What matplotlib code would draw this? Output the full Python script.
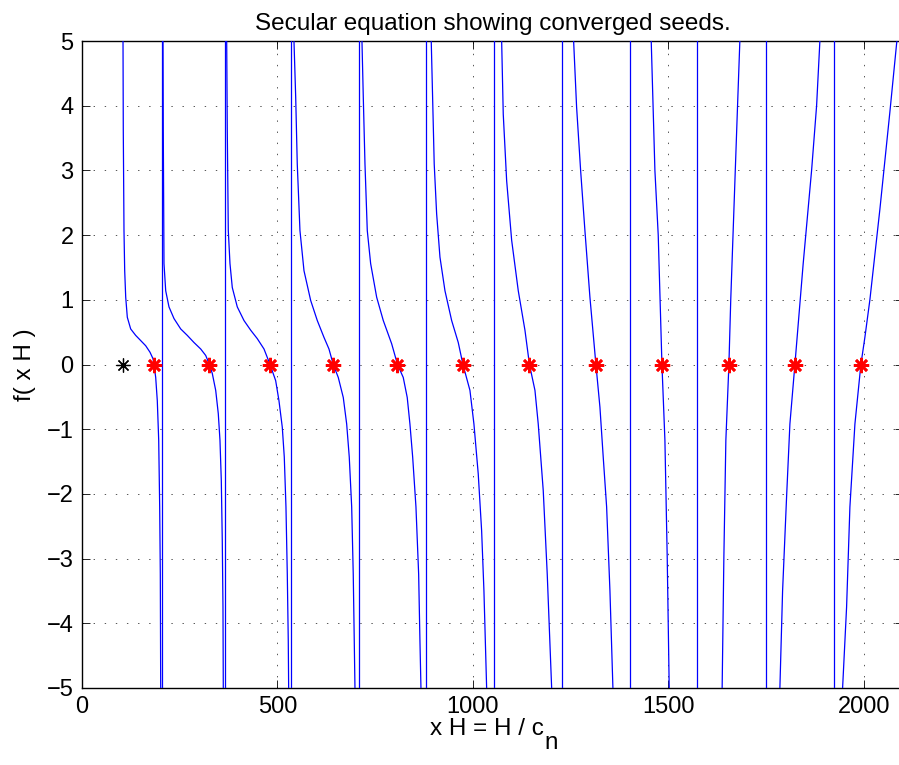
import matplotlib
matplotlib.use('Agg')
import matplotlib.pyplot as plt

plt.rcParams['font.family'] = ['Liberation Sans', 'DejaVu Sans']
plt.rcParams['lines.scale_dashes'] = False

title = "Secular equation showing converged seeds."
xlabel_main = "x H = H / c"
xlabel_sub = "n"
ylabel = "f( x H )"
xticks = [0, 500, 1000, 1500, 2000]
yticks = [-5, -4, -3, -2, -1, 0, 1, 2, 3, 4, 5]

# branches of the secular function f(xH)
b1_x = [104.9, 105.6, 107.4, 109.2, 111.8, 115.9, 124.5, 137.3, 150.1, 162.9, 173.9, 181.6,
        184.1, 188.5, 192.6, 196.2, 198.7, 200.3, 201.3]
b1_y = [5.0, 3.62, 2.07, 1.45, 1.04, 0.73, 0.55, 0.45, 0.37, 0.29, 0.19, 0.09,
        0.0, -0.2, -0.56, -1.17, -2.2, -3.24, -5.0]
b2_x = [207.2, 207.9, 209.7, 214.1, 222.5, 235.3, 252.4, 269.3, 286.4, 303.6, 316.4, 326.0,
        333.3, 342.0, 348.6, 352.9, 356.3, 358.8, 360.6, 361.4]
b2_y = [5.0, 3.62, 1.56, 1.14, 0.89, 0.71, 0.55, 0.45, 0.34, 0.24, 0.14, 0.0,
        -0.14, -0.40, -0.76, -1.17, -1.79, -2.72, -3.75, -5.0]
b3_x = [370.1, 371.6, 374.2, 378.5, 384.4, 397.2, 414.3, 431.5, 448.3, 465.5, 481.0,
        495.4, 503.8, 512.3, 517.4, 521.7, 525.1, 527.6, 528.6]
b3_y = [5.0, 3.62, 2.07, 1.56, 1.19, 0.89, 0.68, 0.53, 0.40, 0.24, 0.0,
        -0.25, -0.56, -0.97, -1.43, -2.2, -3.24, -4.27, -5.0]
b4_x = [542.2, 546.6, 550.6, 557.5, 567.8, 584.9, 601.8, 618.9, 631.7, 642.7,
        655.5, 668.3, 677.0, 683.6, 689.8, 693.8, 696.4, 698.2]
b4_y = [5.0, 4.13, 3.10, 2.07, 1.45, 0.99, 0.68, 0.42, 0.24, 0.0,
        -0.2, -0.51, -0.92, -1.43, -2.2, -3.24, -4.27, -5.0]
b5_x = [716.1, 719.5, 723.8, 729.7, 738.3, 753.7, 770.6, 792.1, 807.0,
        821.7, 831.9, 838.8, 845.8, 854.2, 861.1, 864.4, 867.0]
b5_y = [5.0, 4.13, 3.10, 2.07, 1.56, 1.04, 0.68, 0.32, 0.0,
        -0.2, -0.51, -0.92, -1.43, -2.2, -3.24, -4.27, -5.0]
b6_x = [893.3, 896.8, 900.9, 907.1, 915.6, 928.4, 945.5, 962.4, 974.4,
        992.3, 1002.5, 1013.5, 1022.2, 1028.1, 1035.0]
b6_y = [5.0, 4.13, 3.10, 2.33, 1.66, 1.14, 0.68, 0.34, 0.0,
        -0.4, -0.92, -1.69, -2.57, -3.5, -5.0]
b7_x = [1073.4, 1077.5, 1086.2, 1099.0, 1115.9, 1133.0, 1144.5,
        1158.6, 1167.0, 1179.8, 1190.0, 1201.3]
b7_y = [5.0, 3.87, 2.84, 1.92, 1.14, 0.53, 0.0,
        -0.4, -0.92, -1.95, -3.24, -5.0]
b8_x = [1257.5, 1265.1, 1275.4, 1286.4, 1299.2, 1314.5,
        1324.8, 1333.2, 1341.9, 1350.4, 1358.0]
b8_y = [5.0, 3.98, 3.0, 2.07, 1.04, 0.0,
        -0.66, -1.43, -2.2, -3.5, -5.0]
b9_x = [1456.0, 1465.4, 1473.9, 1483.4, 1491.0, 1496.9, 1502.0]
b9_y = [5.0, 3.0, 2.0, 0.0, -1.17, -2.98, -5.0]
b10_x = [1637.4, 1641.8, 1646.9, 1654.7, 1659.4, 1676.8, 1682.7]
b10_y = [-5.0, -2.98, -1.17, 0.0, 1.0, 4.0, 5.0]
b11_x = [1785.1, 1792.0, 1802.2, 1810.7, 1823.5, 1844.7, 1866.2, 1879.0, 1887.4]
b11_y = [-5.0, -3.5, -2.05, -0.92, 0.0, 1.56, 3.0, 4.0, 5.0]
b12_x = [1945.5, 1955.7, 1964.2, 1977.0, 1992.3, 2002.5, 2015.3, 2040.9, 2066.4, 2084.3]
b12_y = [-5.0, -3.75, -2.2, -0.92, 0.0, 0.42, 1.0, 2.4, 3.9, 5.0]

branches = [(b1_x, b1_y), (b2_x, b2_y), (b3_x, b3_y), (b4_x, b4_y), (b5_x, b5_y),
            (b6_x, b6_y), (b7_x, b7_y), (b8_x, b8_y), (b9_x, b9_y), (b10_x, b10_y),
            (b11_x, b11_y), (b12_x, b12_y)]

# poles (jumps drawn as vertical lines)
poles = [204.6, 365.7, 534.5, 708.4, 879.8, 1053.7, 1227.6, 1401.5, 1572.9, 1749.4, 1923.3]

# converged roots and initial seed
roots = [184.0, 325.5, 480.8, 642.5, 807.0, 974.4, 1144.5, 1314.5, 1483.4, 1654.7, 1823.5, 1992.3]
root_f = [0, 0, 0, 0, 0, 0, 0, 0, 0, 0, 0, 0]
seed_x = [104.9]
seed_f = [0]

W, H = 899, 765
fig = plt.figure(figsize=(W / 100, H / 100), dpi=100)
ax = fig.add_axes([82 / W, 1 - 688 / H, (903 - 82) / W, (688 - 41) / H])

for bx, by in branches:
    ax.plot(bx, by, color='#0000ff', lw=0.9, zorder=3)
ax.vlines(poles, -5.5, 5.5, color='#0000ff', lw=0.9, zorder=3)

ax.plot(seed_x, seed_f, linestyle='none', marker=(8, 2, 0), ms=10, mew=0.9,
        color='k', zorder=4)
ax.plot(roots, root_f, linestyle='none', marker=(8, 2, 0), ms=11, mew=1.9,
        color='#ff0000', zorder=5)

ax.set_xlim(0, 2100)
ax.set_ylim(-5, 5)
ax.set_xticks(xticks)
ax.set_yticks(yticks)
ax.tick_params(direction='in', length=6, width=0.6, top=True, right=True,
               labelsize=17, pad=6, colors='k')
ax.grid(True, color='#555555', linestyle=(0, (1.0, 7.0)), linewidth=0.7)
ax.set_axisbelow(True)
for s in ax.spines.values():
    s.set_linewidth(1.0)

ax.set_title(title, fontsize=17.5, pad=8)
ax.set_ylabel(ylabel, fontsize=17.5, labelpad=8)

# x label with a dropped subscript, MATLAB style
ax.set_xlabel(xlabel_main, fontsize=17.5, labelpad=0)
ax.xaxis.label.set_x(0.493)
fig.canvas.draw()
bb = ax.xaxis.label.get_window_extent()
fig.text((bb.x1 + 1) / W, (bb.y0 - 9) / H, xlabel_sub, fontsize=17.5,
         ha='left', va='baseline')

fig.savefig('out.png', dpi=100)
